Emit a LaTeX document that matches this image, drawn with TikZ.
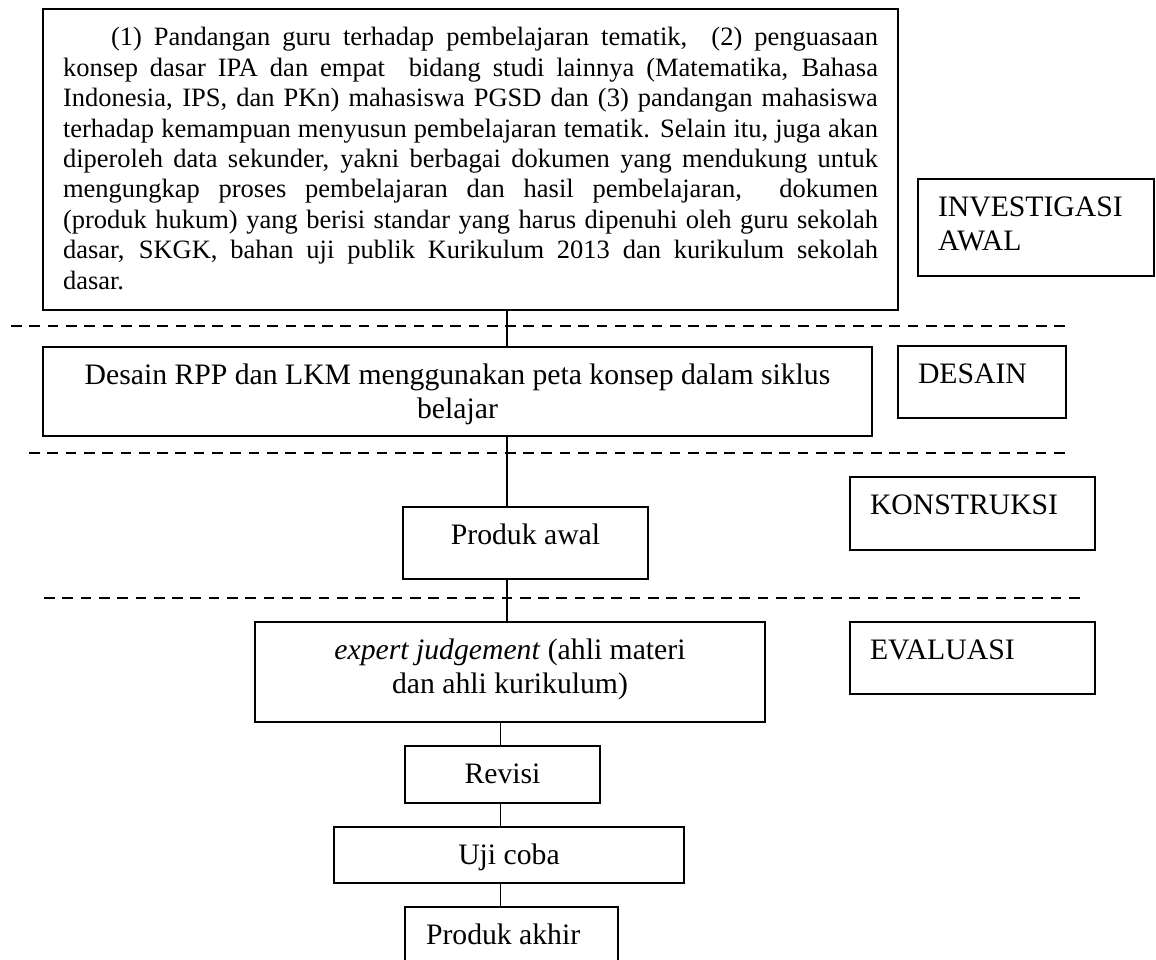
\documentclass[tikz,border=0pt]{standalone}
\usepackage{fontspec}
\setmainfont{Liberation Serif}

\tikzset{
  cell/.style={draw=black, line width=1.6pt, inner sep=0pt, outer sep=0pt, anchor=north west},
  link/.style={draw=black, line width=1.2pt},
  divider/.style={draw=black, line width=2pt, dash pattern=on 10.7pt off 7.6pt},
}

% text sizes
\newcommand\bodyfont{\fontsize{29.7pt}{34pt}\selectfont}
\newcommand\notefont{\fontsize{26.5pt}{30.4pt}\selectfont}
% centred cell: width, height, text (first baseline 37pt below the top)
\newcommand\cellC[3]{\parbox[c][#2][t]{#1}{\bodyfont\centering\rule{0pt}{37pt}#3\par}}
% left-aligned cell: width, height, left padding, text
\newcommand\cellL[4]{\parbox[c][#2][t]{#1}{\bodyfont\raggedright\leftskip=#3\rule{0pt}{37pt}#4\par}}

\begin{document}
\begin{tikzpicture}[x=1pt, y=-1pt]
\useasboundingbox (0,0) rectangle (1156,960);
\clip (0,0) rectangle (1156,960);

% phase dividers
\draw[divider] (11,326) -- (1066,326);
\draw[divider] (29,453) -- (1066,453);
\draw[divider] (44,598) -- (1081,598);

% preliminary investigation
\node[cell] (survey) at (43,9) {\parbox[c][301pt][t]{855pt}{\notefont
  \leftskip=20pt\rightskip=20pt\parindent=0pt\noindent
  \rule{0pt}{37pt}\hspace*{48pt}(1) Pandangan guru terhadap pembelajaran tematik,\ \ (2) penguasaan\linebreak
  konsep dasar IPA dan empat\ \ bidang studi lainnya (Matematika, Bahasa\linebreak
  Indonesia, IPS, dan PKn) mahasiswa PGSD dan (3) pandangan mahasiswa\linebreak
  terhadap kemampuan menyusun pembelajaran tematik. Selain itu, juga akan\linebreak
  diperoleh data sekunder, yakni berbagai dokumen yang mendukung untuk\linebreak
  mengungkap proses pembelajaran dan hasil pembelajaran,\ \ dokumen\linebreak
  (produk hukum) yang berisi standar yang harus dipenuhi oleh guru sekolah\linebreak
  dasar, SKGK, bahan uji publik Kurikulum 2013 dan kurikulum sekolah\linebreak
  dasar.\par}};
\node[cell] (investLbl) at (918,179) {\cellL{236pt}{97pt}{20pt}{INVESTIGASI\\AWAL}};

% design
\node[cell] (desain) at (43,347) {\cellC{829pt}{89pt}{Desain RPP dan LKM menggunakan peta konsep dalam siklus\\belajar}};
\node[cell] (desainLbl) at (898,346) {\cellL{168pt}{72pt}{20pt}{DESAIN}};

% construction
\node[cell] (awal) at (403,507) {\cellC{245pt}{72pt}{Produk awal}};
\node[cell] (konstrLbl) at (850,477) {\cellL{245pt}{73pt}{20pt}{KONSTRUKSI}};

% evaluation
\node[cell] (expert) at (255,622) {\cellC{510pt}{100pt}{\textit{expert judgement} (ahli materi\\dan ahli kurikulum)}};
\node[cell] (evalLbl) at (850,622) {\cellL{245pt}{72pt}{20pt}{EVALUASI}};
\node[cell] (revisi) at (405,746) {\cellC{195pt}{57pt}{Revisi}};
\node[cell] (ujicoba) at (334,827) {\cellC{350pt}{56pt}{Uji coba}};
\node[cell] (akhir) at (405,907) {\cellL{213pt}{57pt}{21pt}{Produk akhir}};

% vertical flow
\coordinate (spineA) at (507,0);
\coordinate (spineB) at (500.5,0);
\draw[link] (survey.south -| spineA) -- (desain.north -| spineA);
\draw[link] (desain.south -| spineA) -- (awal.north -| spineA);
\draw[link] (awal.south -| spineA) -- (expert.north -| spineA);
\draw[link] (expert.south -| spineB) -- (revisi.north -| spineB);
\draw[link] (revisi.south -| spineB) -- (ujicoba.north -| spineB);
\draw[link] (ujicoba.south -| spineB) -- (akhir.north -| spineB);
\end{tikzpicture}
\end{document}
